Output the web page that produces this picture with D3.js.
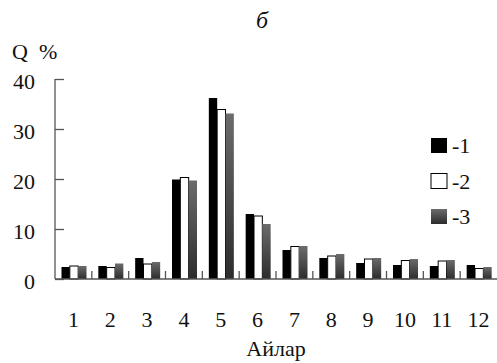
<!DOCTYPE html>
<html>
<head>
<meta charset="utf-8">
<script src="https://cdn.jsdelivr.net/npm/d3@7"></script>
<style>
  body { margin: 0; background: white; }
  text { font-family: "Liberation Serif", "Times New Roman", serif; fill: #111; }
</style>
</head>
<body>
<div id="chart"></div>
<script>
// months and series (Q %)
const months = ["1", "2", "3", "4", "5", "6", "7", "8", "9", "10", "11", "12"]
const seriesNames = ["-1", "-2", "-3"]
const s1 = [2.4, 2.6, 4.2, 19.9, 36.2, 13.0, 5.8, 4.2, 3.2, 2.8, 2.6, 2.8]
const s2 = [2.6, 2.3, 3.0, 20.3, 33.9, 12.6, 6.5, 4.6, 4.0, 3.7, 3.6, 2.1]
const s3 = [2.6, 3.1, 3.4, 19.7, 33.1, 11.0, 6.6, 5.0, 4.2, 4.0, 3.8, 2.4]
const yTicks = [0, 10, 20, 30, 40]

const width = 497, height = 363
const margin = {top: 79, right: 0, bottom: 84, left: 55}

const svg = d3.select("#chart").append("svg")
    .attr("width", width)
    .attr("height", height)

const defs = svg.append("defs")
const grad = defs.append("linearGradient")
    .attr("id", "greyGrad")
    .attr("x1", 0).attr("y1", 0).attr("x2", 0).attr("y2", 1)
grad.append("stop").attr("offset", "0%").attr("stop-color", "#6c6c6c")
grad.append("stop").attr("offset", "100%").attr("stop-color", "#2c2c2c")

const x = d3.scaleBand()
    .domain(months)
    .range([margin.left, width - margin.right])

const x1 = d3.scaleBand()
    .domain([0, 1, 2])
    .range([6.5, 31.5])

const y = d3.scaleLinear()
    .domain([0, 40])
    .range([height - margin.bottom, margin.top])

const fills = ["#000", "#fff", "url(#greyGrad)"]
const allSeries = [s1, s2, s3]

const rows = []
months.forEach((m, i) => {
    allSeries.forEach((s, k) => {
        rows.push({month: m, k: k, v: s[i]})
    })
})

svg.selectAll(".bar")
    .data(rows)
    .join("rect")
    .attr("class", "bar")
    .attr("x", d => x(d.month) + x1(d.k))
    .attr("width", x1.bandwidth() - (0))
    .attr("y", d => y(d.v))
    .attr("height", d => y(0) - y(d.v))
    .attr("fill", d => fills[d.k])
    .attr("stroke", d => d.k == 1 ? "#000" : "none")
    .attr("stroke-width", 1)

// y axis
const yAxis = svg.append("g")
    .attr("transform", `translate(${margin.left},0)`)
    .call(d3.axisRight(y).tickValues(yTicks).tickSize(9).tickFormat(""))
yAxis.select(".domain").remove()
yAxis.selectAll("line").attr("stroke", "#555").attr("stroke-width", 1.3)
svg.append("line")
    .attr("x1", margin.left).attr("x2", margin.left)
    .attr("y1", y(40)).attr("y2", y(0))
    .attr("stroke", "#555").attr("stroke-width", 1.3)

svg.selectAll(".ylab")
    .data(yTicks)
    .join("text")
    .attr("class", "ylab")
    .attr("x", 35)
    .attr("y", d => y(d) + 10)
    .attr("text-anchor", "end")
    .style("font-size", "22px")
    .text(d => d)

// x axis with ticks between months
svg.append("line")
    .attr("x1", margin.left).attr("x2", width)
    .attr("y1", y(0)).attr("y2", y(0))
    .attr("stroke", "#555").attr("stroke-width", 1.3)

svg.selectAll(".xtick")
    .data(months.slice(1))
    .join("line")
    .attr("class", "xtick")
    .attr("x1", d => x(d)).attr("x2", d => x(d))
    .attr("y1", y(0)).attr("y2", y(0) - 8)
    .attr("stroke", "#555").attr("stroke-width", 1.3)

svg.selectAll(".xlab")
    .data(months)
    .join("text")
    .attr("class", "xlab")
    .attr("x", d => x(d) + x.bandwidth() / 2)
    .attr("y", 327)
    .attr("text-anchor", "middle")
    .style("font-size", "22px")
    .text(d => d)

svg.append("text")
    .attr("x", (margin.left + width) / 2)
    .attr("y", 356)
    .attr("text-anchor", "middle")
    .style("font-size", "22px")
    .text("Айлар")

svg.append("text")
    .attr("x", 12)
    .attr("y", 59)
    .style("font-size", "22px")
    .attr("xml:space", "preserve")
    .text("Q  %")

svg.append("text")
    .attr("x", 262)
    .attr("y", 28)
    .attr("text-anchor", "middle")
    .style("font-size", "24px")
    .style("font-style", "italic")
    .text("б")

// legend
const legend = svg.selectAll(".leg")
    .data(seriesNames)
    .join("g")
    .attr("class", "leg")
    .attr("transform", (d, i) => `translate(431,${138 + i * 35.5})`)

legend.append("rect")
    .attr("width", 16)
    .attr("height", 15)
    .attr("fill", (d, i) => fills[i])
    .attr("stroke", (d, i) => i == 1 ? "#000" : "none")

legend.append("text")
    .attr("x", 21)
    .attr("y", 15)
    .style("font-size", "22px")
    .text(d => d)
</script>
</body>
</html>
